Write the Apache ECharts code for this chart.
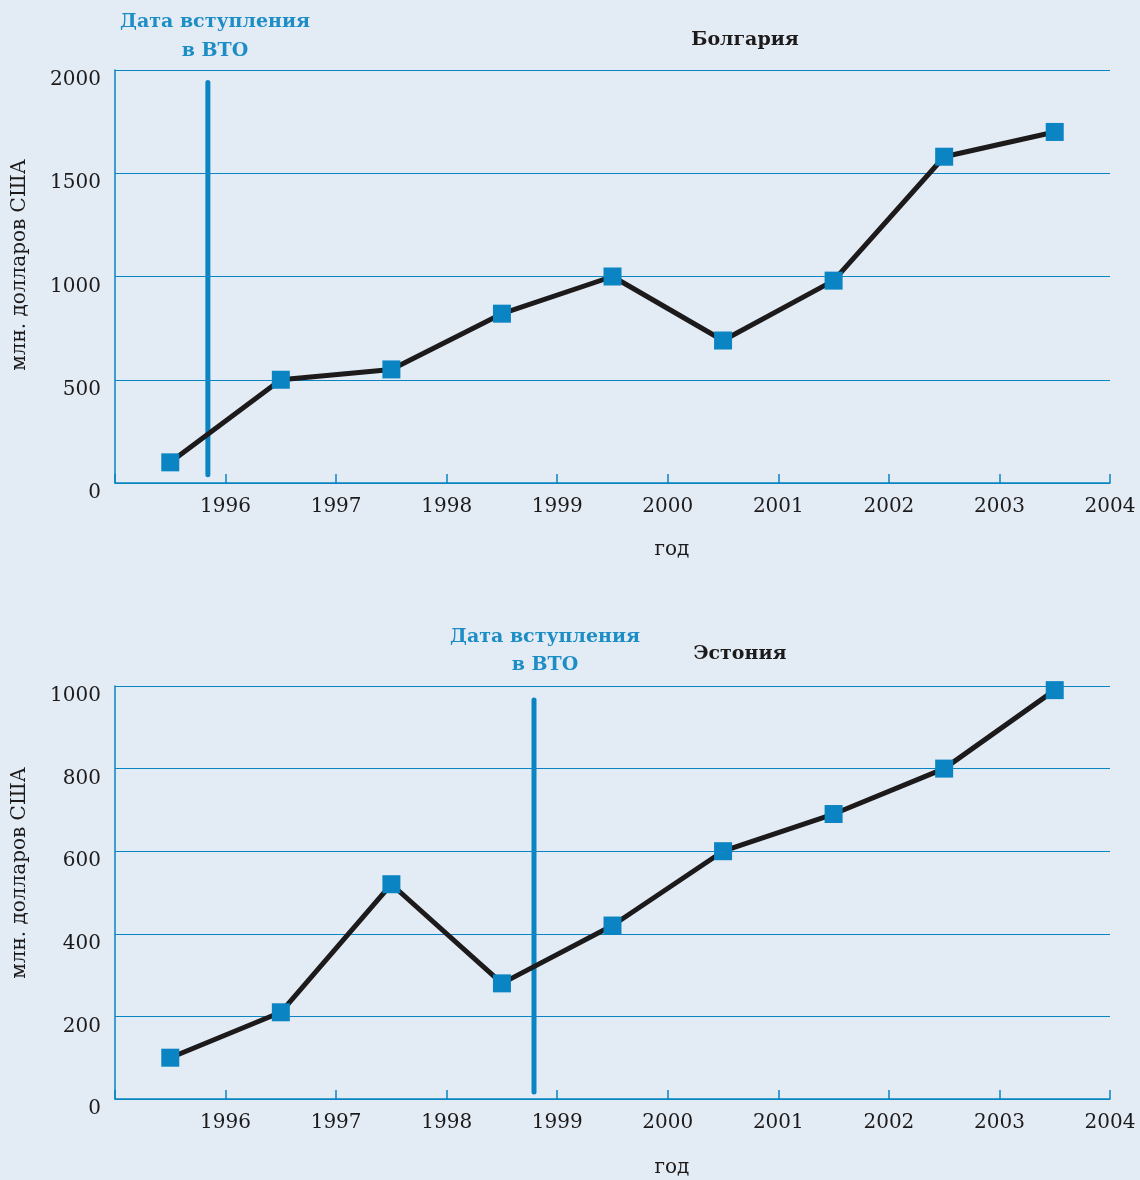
<!DOCTYPE html>
<html>
<head>
<meta charset="utf-8">
<script src="https://cdn.jsdelivr.net/npm/echarts@6/dist/echarts.min.js"></script>
<style>
  html, body { margin: 0; padding: 0; background: #e3ebf4; }
  #chart { width: 1140px; height: 1180px; }
</style>
</head>
<body>
<div id="chart"></div>
<script>
// Years (each point sits at the middle of its year)
const years = [1995, 1996, 1997, 1998, 1999, 2000, 2001, 2002, 2003];
// Foreign direct investment inflows, млн. долларов США
const bulgaria = [100, 500, 550, 820, 1000, 690, 980, 1580, 1700];
const estonia = [100, 210, 520, 280, 420, 600, 690, 800, 990];
// WTO accession markers (decimal year) and vertical extent
const wtoBulgaria = { x: 1995.84, from: 40, to: 1940 };
const wtoEstonia = { x: 1998.79, from: 17, to: 966 };
// Axis ranges and tick steps
const xTicks = { min: 1995, max: 2004, interval: 1 };
const yTop = { min: 0, max: 2000, interval: 500 };
const yBottom = { min: 0, max: 1000, interval: 200 };

const BLUE = '#0a84c2';
const LABEL_BLUE = '#1d8dc6';
const INK = '#1c1a1b';
const FONT = 'DejaVu Serif';

function xAxis(gridIndex) {
  return {
    type: 'value', gridIndex,
    min: xTicks.min, max: xTicks.max, interval: xTicks.interval,
    axisLine: { show: true, lineStyle: { color: BLUE, width: 1.5 } },
    axisTick: { show: true, inside: true, length: 9, lineStyle: { color: BLUE, width: 1.5 } },
    splitLine: { show: false },
    axisLabel: {
      color: INK, fontFamily: FONT, fontSize: 20, margin: 14,
      formatter: v => (v === xTicks.min ? '' : String(v))
    }
  };
}
function yAxis(gridIndex, r) {
  return {
    type: 'value', gridIndex, min: r.min, max: r.max, interval: r.interval,
    axisLine: { show: true, lineStyle: { color: BLUE, width: 1.5 } },
    axisTick: { show: false },
    splitLine: { show: true, lineStyle: { color: BLUE, width: 1.2 } },
    axisLabel: {
      color: INK, fontFamily: FONT, fontSize: 20, margin: 14,
      verticalAlign: 'top', formatter: v => String(v)
    }
  };
}
function seriesLine(idx, values) {
  return {
    type: 'line', xAxisIndex: idx, yAxisIndex: idx,
    data: years.map((y, i) => [y + 0.5, values[i]]),
    symbol: 'rect', symbolSize: 18,
    itemStyle: { color: BLUE },
    lineStyle: { color: INK, width: 5 },
    z: 3, animation: false
  };
}
function wtoLine(idx, m) {
  return {
    type: 'line', xAxisIndex: idx, yAxisIndex: idx,
    data: [[m.x, m.from], [m.x, m.to]],
    symbol: 'none',
    lineStyle: { color: BLUE, width: 5, cap: 'round' },
    z: 2, animation: false
  };
}
function txt(x, y, text, opts) {
  return {
    type: 'text', x, y,
    style: Object.assign({
      text, fill: INK, font: '20px "' + FONT + '"', align: 'center', verticalAlign: 'middle'
    }, opts || {})
  };
}
function vtxt(x, y, text) {
  return {
    type: 'text', x, y, rotation: Math.PI / 2,
    style: { text, fill: INK, font: '20px "' + FONT + '"', align: 'center', verticalAlign: 'middle' }
  };
}

const BOLD = 'bold 19px "' + FONT + '"';
const chart = echarts.init(document.getElementById('chart'));
chart.setOption({
  backgroundColor: '#e3ebf4',
  animation: false,
  grid: [
    { left: 115, top: 70, width: 995, height: 413 },
    { left: 115, top: 686, width: 995, height: 413 }
  ],
  xAxis: [xAxis(0), xAxis(1)],
  yAxis: [yAxis(0, yTop), yAxis(1, yBottom)],
  series: [
    wtoLine(0, wtoBulgaria), seriesLine(0, bulgaria),
    wtoLine(1, wtoEstonia), seriesLine(1, estonia)
  ],
  graphic: [
    txt(745, 40, 'Болгария', { font: BOLD }),
    txt(740, 654, 'Эстония', { font: BOLD }),
    txt(215, 22, 'Дата вступления', { font: BOLD, fill: LABEL_BLUE }),
    txt(215, 51, 'в ВТО', { font: BOLD, fill: LABEL_BLUE }),
    txt(545, 637, 'Дата вступления', { font: BOLD, fill: LABEL_BLUE }),
    txt(545, 665, 'в ВТО', { font: BOLD, fill: LABEL_BLUE }),
    txt(672, 550, 'год'),
    txt(672, 1168, 'год'),
    vtxt(20, 265, 'млн. долларов США'),
    vtxt(20, 873, 'млн. долларов США')
  ]
});
</script>
</body>
</html>
